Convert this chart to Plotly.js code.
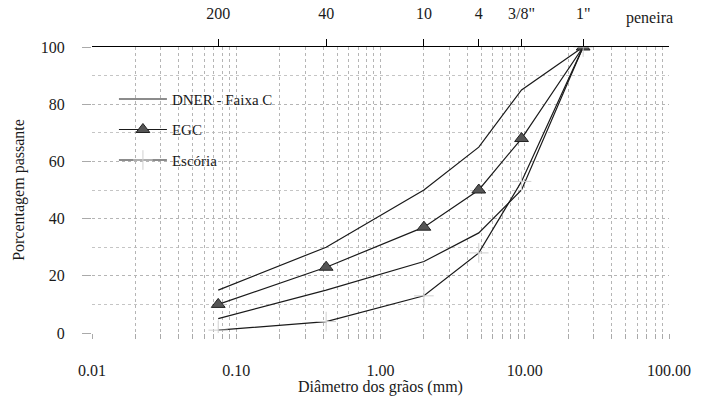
<!DOCTYPE html>
<html>
<head>
<meta charset="utf-8">
<script src="https://cdn.plot.ly/plotly-3.0.1.min.js"></script>
<style>
html,body{margin:0;padding:0;background:#fff;}
#chart text{font-family:'Liberation Serif' !important;}
</style>
</head>
<body>
<div id="chart" style="width:707px;height:396px"></div>
<script>
// Sieve openings (mm) and their names (top axis)
const sieveSizes = [0.075, 0.42, 2.0, 4.8, 9.5, 25.4];
const sieveLabels = ['200', '40', '10', '4', '3/8"', '1"'];

// Series (% passing)
const dnerUpper = [15, 30, 50, 65, 85, 100];
const dnerLower = [5, 15, 25, 35, 50, 100];
const egc       = [10, 23, 37, 50, 68, 100];
const escoria   = [1, 4, 13, 28, 53, 100];

// Axis labels
const xDecades = [0.01, 0.1, 1, 10, 100];
const xDecadeLabels = ['0.01', '0.10', '1.00', '10.00', '100.00'];
const yTickVals = [0, 20, 40, 60, 80, 100];
const yTickLabels = ['0', '20', '40', '60', '80', '100'];

// log grid positions (1..9 per decade)
const xGridVals = [], xGridText = [];
for (let d = -2; d <= 1; d++) {
  for (let k = 1; k <= 9; k++) {
    const v = k * Math.pow(10, d);
    xGridVals.push(v);
    const i = xDecades.findIndex(t => Math.abs(t - v) < 1e-12);
    xGridText.push(i >= 0 ? xDecadeLabels[i] : '');
  }
}
xGridVals.push(100); xGridText.push(xDecadeLabels[4]);

const FONT = 'Liberation Serif';
const lineCol = '#1a1a1a';
const txtCol = '#1a1a1a';

const traces = [
  {x: sieveSizes, y: dnerUpper, name: 'DNER - Faixa C', mode: 'lines', legendgroup: 'a',
   line: {color: lineCol, width: 1.2}},
  {x: sieveSizes, y: dnerLower, name: 'DNER - Faixa C', mode: 'lines', legendgroup: 'a', showlegend: false,
   line: {color: lineCol, width: 1.2}},
  {x: sieveSizes, y: egc, name: 'EGC', mode: 'lines+markers', legendgroup: 'b',
   line: {color: lineCol, width: 1.2},
   marker: {symbol: 'triangle-up', size: 12, color: '#555', line: {color: '#222', width: 1}}},
  {x: sieveSizes, y: escoria, name: 'Escória', mode: 'lines+markers', legendgroup: 'c',
   line: {color: lineCol, width: 1.2},
   marker: {symbol: 'cross-thin-open', size: 14, color: '#d0d0d0', line: {color: '#d0d0d0', width: 1}}},
  {x: [], y: [], xaxis: 'x2', showlegend: false, hoverinfo: 'skip'}
];

const layout = {
  width: 707, height: 396,
  margin: {l: 92, r: 38, t: 47, b: 63},
  font: {family: FONT, size: 15, color: txtCol},
  showlegend: true,
  legend: {x: 0.038, y: 0.875, xanchor: 'left', yanchor: 'top',
           bgcolor: 'rgba(0,0,0,0)', font: {family: FONT, size: 15, color: txtCol},
           tracegroupgap: 8, itemwidth: 48},
  xaxis: {
    type: 'log', range: [-2, 2],
    tickmode: 'array', tickvals: xGridVals, ticktext: xGridText,
    ticks: 'outside', ticklen: 5, tickcolor: '#aaa', tickwidth: 1,
    ticklabelstandoff: 18,
    showgrid: true, gridcolor: '#b5b5b5', griddash: 'dot', gridwidth: 1,
    showline: false, zeroline: false,
    tickfont: {family: FONT, size: 16, color: txtCol},
    title: {text: 'Diâmetro dos grãos (mm)', font: {family: FONT, size: 16, color: txtCol}, standoff: 2}
  },
  xaxis2: {
    type: 'log', range: [-2, 2], overlaying: 'x', side: 'top', anchor: 'y',
    tickmode: 'array', tickvals: sieveSizes, ticktext: sieveLabels,
    ticks: 'outside', ticklen: 7, tickcolor: '#000', tickwidth: 1.2,
    ticklabelstandoff: 14,
    showgrid: false, showline: true, linecolor: '#000', linewidth: 1.2, zeroline: false,
    tickfont: {family: FONT, size: 16, color: txtCol}
  },
  yaxis: {
    range: [0, 100],
    tickmode: 'array', tickvals: yTickVals, ticktext: yTickLabels,
    ticks: 'outside', ticklen: 9, tickcolor: '#aaa', tickwidth: 1,
    ticklabelstandoff: 14,
    showgrid: true, gridcolor: '#b5b5b5', griddash: 'dot', gridwidth: 1,
    minor: {dtick: 10, tick0: 0, showgrid: true, gridcolor: '#c5c5c5', griddash: 'dot', gridwidth: 1, ticks: ''},
    zeroline: false, showline: false,
    tickfont: {family: FONT, size: 16, color: txtCol},
    title: {text: 'Porcentagem passante', font: {family: FONT, size: 16, color: txtCol}, standoff: 12}
  },
  annotations: [
    {text: 'peneira', xref: 'paper', yref: 'paper', x: 0.967, y: 1.1, xanchor: 'center', yanchor: 'middle',
     showarrow: false, font: {family: FONT, size: 16, color: txtCol}}
  ]
};

Plotly.newPlot('chart', traces, layout, {displayModeBar: false});
</script>
</body>
</html>
